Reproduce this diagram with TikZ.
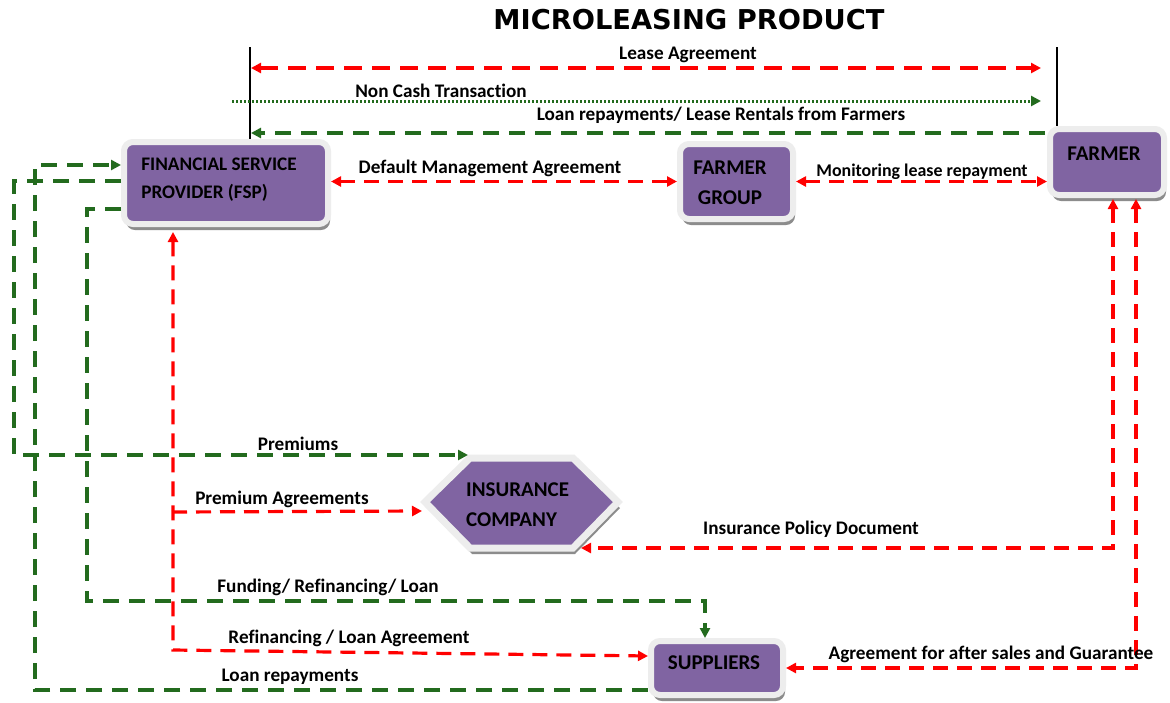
\documentclass[tikz,border=0pt]{standalone}
\usepackage{fontspec}
\setmainfont{Carlito}[RawFeature={-liga}]
\newfontfamily\titlefont{DejaVu Sans}
\usetikzlibrary{arrows.meta,shadows}
\definecolor{boxpurple}{HTML}{8064A2}
\definecolor{boxborder}{HTML}{EDEDED}
\definecolor{flowred}{HTML}{FF0000}
\definecolor{flowgreen}{HTML}{236B1E}
\definecolor{shade}{HTML}{8C8C8C}
\begin{document}
\begin{tikzpicture}[x=1pt,y=-1pt,
  >={Triangle[length=10pt,width=10pt]},
  box/.style={rectangle, rounded corners=9pt, fill=boxpurple, draw=boxborder, line width=6pt, inner sep=0pt,
    drop shadow={shadow xshift=2pt, shadow yshift=-6pt, fill=shade, opacity=1}},
  lbl/.style={font=\fontsize{19.2}{21}\selectfont\bfseries, inner sep=0pt},
  boxtxt/.style={font=\fontsize{21}{30}\selectfont\bfseries, inner sep=0pt},
  redflow/.style={draw=flowred, line width=3.2pt, dash pattern=on 15pt off 9pt},
  greenflow/.style={draw=flowgreen, line width=3.2pt, dash pattern=on 16pt off 10pt},
  dotflow/.style={draw=flowgreen, line width=3pt, dash pattern=on 2pt off 2pt},
  bar/.style={draw=black, line width=1.5pt}
]
\useasboundingbox (0,0) rectangle (1170,702);
\fill[white] (0,0) rectangle (1170,702);

% title
\node[font=\titlefont\fontsize{27.3}{30}\selectfont\bfseries, inner sep=0pt] (title) at (689,20) {MICROLEASING PRODUCT};

% boxes
\node[box, minimum width=204pt, minimum height=82pt] (fsp) at (226,183) {};
\node[box, minimum width=113pt, minimum height=75pt] (fg) at (736.5,181.5) {};
\node[box, minimum width=114pt, minimum height=66pt] (farmer) at (1107,162) {};
\node[box, minimum width=132pt, minimum height=54pt] (sup) at (717,668) {};
\path[fill=boxpurple, draw=boxborder, line width=7pt, line join=miter,
      drop shadow={shadow xshift=2pt, shadow yshift=-6pt, fill=shade, opacity=1}]
  (425,502) -- (470,458) -- (573,458) -- (618,502) -- (573,548) -- (470,548) -- cycle;
\coordinate (insL) at (422,511);
\coordinate (insTL) at (468,455);
\coordinate (insBR) at (581,548);

% box texts
\node[boxtxt, font=\fontsize{19.2}{28}\selectfont\bfseries, align=left] (fspT) at (219,180) {FINANCIAL SERVICE\\PROVIDER (FSP)};
\node[boxtxt, align=center] (fgT) at (730,183) {FARMER\\GROUP};
\node[boxtxt] (farmerT) at (1104,154) {FARMER};
\node[boxtxt, align=left, anchor=west] (insT) at (466,505) {INSURANCE\\COMPANY};
\node[boxtxt] (supT) at (714,663) {SUPPLIERS};

% black bars
\coordinate (LT) at (250,47);
\coordinate (RT) at (1057,47);
\draw[bar] (LT) -- (LT |- fsp.north);
\draw[bar] (RT) -- (RT |- farmer.north);

% top flows
\coordinate (la1) at (251,68);
\coordinate (la2) at (1041,68);
\draw[redflow,<->, dash pattern=on 18pt off 10pt] (la1) -- (la2);
\coordinate (nc1) at (232,101);
\coordinate (nc2) at (1041,101);
\draw[dotflow,->] (nc1) -- (nc2);
\coordinate (lr1) at (1045,133);
\coordinate (lr2) at (251,133);
\draw[greenflow,->] (lr1) -- (lr2);

% middle row
\draw[redflow,<->] (fsp.east |- fg.west) -- (fg.west);
\draw[redflow,<->] (fg.east) -- (farmer.west |- fg.east);

% green left loops
\coordinate (gA0) at (121,181);
\coordinate (gA1) at (14,181);
\coordinate (gA2) at (14,455);
\draw[greenflow,->] (gA0) -- (gA1) -- (gA2) -- (insTL);

\coordinate (gB0) at (648,690);
\coordinate (gB1) at (35,690);
\coordinate (gB2) at (35,165);
\coordinate (gB3) at (121,165);
\draw[greenflow,->] (gB0) -- (gB1) -- (gB2) -- (gB3);

\coordinate (gC0) at (121,209);
\coordinate (gC1) at (87,209);
\coordinate (gC2) at (87,601);
\coordinate (gC3) at (705,601);
\draw[greenflow,->] (gC0) -- (gC1) -- (gC2) -- (gC3) -- (gC3 |- sup.north);

% red from FSP bottom
\coordinate (fspB) at ([xshift=-53pt,yshift=-5pt]fsp.south);
\coordinate (rB1) at (172,650);
\coordinate (supL) at ([yshift=12pt]sup.west);
\coordinate (jPA) at (172,512);
\draw[redflow,<->] (fspB) -- (fspB |- rB1) -- (supL);
\draw[redflow,->] (jPA) -- (insL);

% red from farmer bottom
\coordinate (fr1) at (1113,199);
\coordinate (fr1b) at (1113,548);
\draw[redflow,<->] (fr1) -- (fr1b) -- (insBR);
\coordinate (fr2) at (1136,199);
\coordinate (fr2b) at (1136,668);
\draw[redflow,<->] (fr2) -- (fr2b) -- (sup.east);

% labels
\node[lbl] (lLease) at (688,55) {Lease Agreement};
\node[lbl] (lNon) at (441,91) {Non Cash Transaction};
\node[lbl] (lLoanTop) at (721,115) {Loan repayments/ Lease Rentals from Farmers};
\node[lbl] (lDef) at (490,168) {Default Management Agreement};
\node[lbl, font=\fontsize{17.9}{20}\selectfont\bfseries] (lMon) at (922,172) {Monitoring lease repayment};
\node[lbl] (lPrem) at (298,444) {Premiums};
\node[lbl] (lPremA) at (282,499) {Premium Agreements};
\node[lbl] (lIns) at (811,529) {Insurance Policy Document};
\node[lbl] (lFund) at (328,587) {Funding/ Refinancing/ Loan};
\node[lbl] (lRef) at (349,638) {Refinancing / Loan Agreement};
\node[lbl] (lAfter) at (991,654) {Agreement for after sales and Guarantee};
\node[lbl] (lLoan) at (290,677) {Loan repayments};
\end{tikzpicture}
\end{document}
